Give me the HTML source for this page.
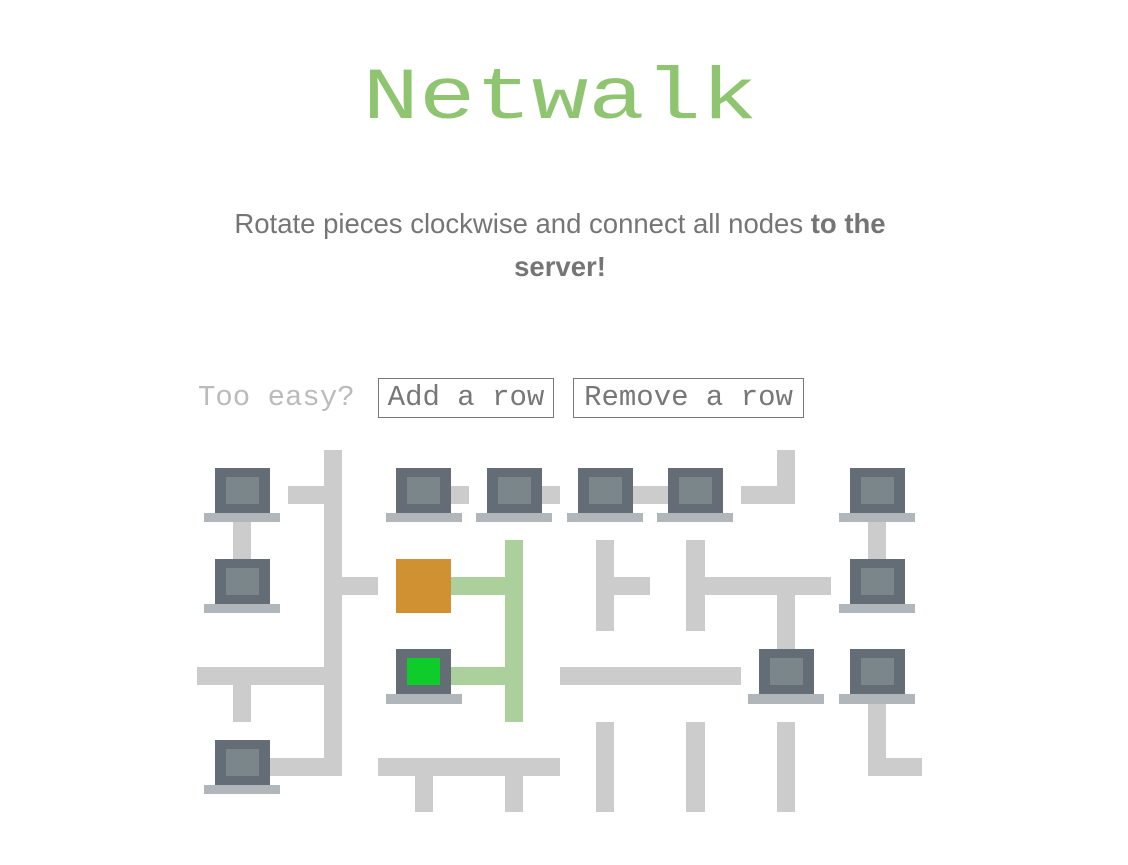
<!DOCTYPE html>
<html><head><meta charset="utf-8"><style>
html,body{margin:0;padding:0;background:#fff;width:1128px;height:865px;overflow:hidden;position:relative}
.a{position:absolute}
.p{position:absolute;background:#cccccc}
.g{position:absolute;background:#acd09b}
.mo{position:absolute;background:#646d75;width:55px;height:45px}
.mo i{position:absolute;left:11px;top:9px;width:33px;height:27px;background:#7b868b}
.mb{position:absolute;background:#b1b6ba;width:76px;height:9px}
.t{font-family:"Liberation Mono",monospace;white-space:nowrap}
.btn{position:absolute;border:1px solid #777;box-sizing:border-box;height:40px;color:#777;font-family:"Liberation Mono",monospace;font-size:29px;line-height:38px;text-align:center;white-space:nowrap}
</style></head><body>
<div class="a t" style="left:0;width:1120px;top:46px;text-align:center;font-size:94px;line-height:94px;color:#8fc470;transform:scaleY(0.78);transform-origin:50% 75px">Netwalk</div>
<div class="a" style="left:0;width:1120px;top:202px;text-align:center;font-family:'Liberation Sans',Arial,sans-serif;font-size:27.5px;line-height:43px;color:#757575">Rotate pieces clockwise and connect all nodes <b>to the</b><br><b>server!</b></div>
<div class="a t" style="left:198px;top:379px;font-size:29px;line-height:38px;color:#bbb">Too easy?</div>
<div class="btn" style="left:378px;top:378px;width:176px">Add a row</div>
<div class="btn" style="left:573px;top:378px;width:231px">Remove a row</div>

<!-- grey pipes -->
<div class="p" style="left:324px;top:450px;width:18px;height:326px"></div>
<div class="p" style="left:288px;top:486px;width:36px;height:18px"></div>
<div class="p" style="left:342px;top:577px;width:36px;height:18px"></div>
<div class="p" style="left:197px;top:667px;width:127px;height:18px"></div>
<div class="p" style="left:233px;top:685px;width:18px;height:37px"></div>
<div class="p" style="left:270px;top:758px;width:54px;height:18px"></div>
<div class="p" style="left:233px;top:522px;width:18px;height:37px"></div>
<div class="p" style="left:451px;top:486px;width:18px;height:18px"></div>
<div class="p" style="left:541px;top:486px;width:19px;height:18px"></div>
<div class="p" style="left:632px;top:486px;width:36px;height:18px"></div>
<div class="p" style="left:741px;top:486px;width:54px;height:18px"></div>
<div class="p" style="left:777px;top:450px;width:18px;height:54px"></div>
<div class="p" style="left:868px;top:522px;width:18px;height:37px"></div>
<div class="p" style="left:596px;top:540px;width:18px;height:91px"></div>
<div class="p" style="left:614px;top:577px;width:36px;height:18px"></div>
<div class="p" style="left:686px;top:540px;width:19px;height:91px"></div>
<div class="p" style="left:705px;top:577px;width:126px;height:18px"></div>
<div class="p" style="left:777px;top:595px;width:18px;height:54px"></div>
<div class="p" style="left:560px;top:667px;width:181px;height:18px"></div>
<div class="p" style="left:378px;top:758px;width:182px;height:18px"></div>
<div class="p" style="left:415px;top:776px;width:18px;height:36px"></div>
<div class="p" style="left:505px;top:776px;width:18px;height:36px"></div>
<div class="p" style="left:596px;top:722px;width:18px;height:90px"></div>
<div class="p" style="left:686px;top:722px;width:19px;height:90px"></div>
<div class="p" style="left:777px;top:722px;width:18px;height:90px"></div>
<div class="p" style="left:868px;top:704px;width:18px;height:72px"></div>
<div class="p" style="left:886px;top:758px;width:36px;height:18px"></div>

<!-- green pipes -->
<div class="g" style="left:505px;top:540px;width:18px;height:182px"></div>
<div class="g" style="left:451px;top:577px;width:54px;height:18px"></div>
<div class="g" style="left:451px;top:667px;width:54px;height:18px"></div>

<!-- server -->
<div class="a" style="left:396px;top:559px;width:55px;height:54px;background:#d09133"></div>

<!-- monitors -->
<div class="mo" style="left:215px;top:468px"><i></i></div><div class="mb" style="left:204px;top:513px"></div>
<div class="mo" style="left:215px;top:559px"><i></i></div><div class="mb" style="left:204px;top:604px"></div>
<div class="mo" style="left:215px;top:740px"><i></i></div><div class="mb" style="left:204px;top:785px"></div>
<div class="mo" style="left:396px;top:468px"><i></i></div><div class="mb" style="left:386px;top:513px"></div>
<div class="mo" style="left:487px;top:468px"><i></i></div><div class="mb" style="left:476px;top:513px"></div>
<div class="mo" style="left:578px;top:468px"><i></i></div><div class="mb" style="left:567px;top:513px"></div>
<div class="mo" style="left:668px;top:468px"><i></i></div><div class="mb" style="left:657px;top:513px"></div>
<div class="mo" style="left:850px;top:468px"><i></i></div><div class="mb" style="left:839px;top:513px"></div>
<div class="mo" style="left:850px;top:559px"><i></i></div><div class="mb" style="left:839px;top:604px"></div>
<div class="mo" style="left:759px;top:649px"><i></i></div><div class="mb" style="left:748px;top:694px;height:10px"></div>
<div class="mo" style="left:850px;top:649px"><i></i></div><div class="mb" style="left:839px;top:694px;height:10px"></div>
<div class="mo" style="left:396px;top:649px"><i style="background:#0ecc2a"></i></div><div class="mb" style="left:386px;top:694px;height:10px"></div>
</body></html>
